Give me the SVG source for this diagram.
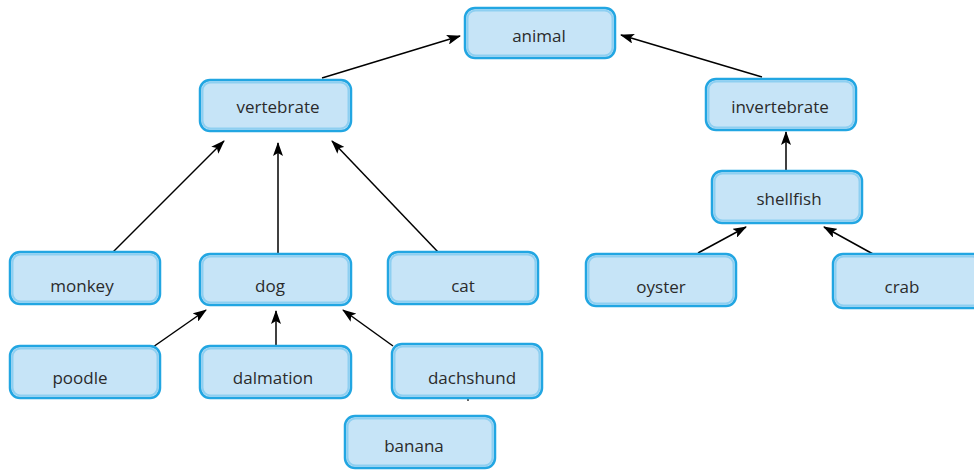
<svg xmlns="http://www.w3.org/2000/svg" width="974" height="470" viewBox="0 0 974 470">
<style>
.box{fill:#C6E4F7;stroke:#22A6E2;stroke-width:2.5}
.inner{fill:none;stroke:#8ECFF1;stroke-width:2}
.lbl{font-family:"Open Sans","DejaVu Sans",sans-serif;font-size:17px;fill:#2B2B2B;text-anchor:middle}
.edge{stroke:#000;stroke-width:1.5;fill:none;marker-end:url(#ah)}
</style>
<defs>
<marker id="ah" viewBox="0 0 14 10" refX="13" refY="5" markerWidth="14" markerHeight="10" markerUnits="userSpaceOnUse" orient="auto">
<path d="M0,0 L14,5 L0,10 L3,5 Z" fill="#000"/>
</marker>
</defs>
<g id="connectors">
<line class="edge" x1="322" y1="78" x2="460" y2="36"/>
<line class="edge" x1="762" y1="77" x2="621" y2="35"/>
<line class="edge" x1="113" y1="252" x2="224" y2="141"/>
<line class="edge" x1="278" y1="253" x2="278" y2="143"/>
<line class="edge" x1="438" y1="252" x2="332" y2="141"/>
<line class="edge" x1="786" y1="170" x2="786" y2="132"/>
<line class="edge" x1="698" y1="253" x2="746" y2="227"/>
<line class="edge" x1="873" y1="254" x2="824" y2="227"/>
<line class="edge" x1="153" y1="347" x2="206" y2="310"/>
<line class="edge" x1="276" y1="346" x2="276" y2="311"/>
<line class="edge" x1="393" y1="346" x2="343" y2="310"/>
<line x1="468" y1="398" x2="468" y2="401" stroke="#000" stroke-width="1.2"/>
</g>
<g id="animal"><rect class="box" x="465" y="8" width="150" height="50" rx="10"/><rect class="inner" x="467.5" y="10.5" width="145" height="45" rx="8"/><text class="lbl" x="539" y="42">animal</text></g>
<g id="vertebrate"><rect class="box" x="200" y="80" width="151" height="51" rx="10"/><rect class="inner" x="202.5" y="82.5" width="146" height="46" rx="8"/><text class="lbl" x="278" y="113">vertebrate</text></g>
<g id="invertebrate"><rect class="box" x="706" y="79" width="150" height="51" rx="10"/><rect class="inner" x="708.5" y="81.5" width="145" height="46" rx="8"/><text class="lbl" x="780" y="113">invertebrate</text></g>
<g id="shellfish"><rect class="box" x="712" y="171" width="150" height="52" rx="10"/><rect class="inner" x="714.5" y="173.5" width="145" height="47" rx="8"/><text class="lbl" x="789" y="205">shellfish</text></g>
<g id="monkey"><rect class="box" x="10" y="252" width="150" height="52" rx="10"/><rect class="inner" x="12.5" y="254.5" width="145" height="47" rx="8"/><text class="lbl" x="82" y="292">monkey</text></g>
<g id="dog"><rect class="box" x="200" y="254" width="151" height="51" rx="10"/><rect class="inner" x="202.5" y="256.5" width="146" height="46" rx="8"/><text class="lbl" x="270" y="292">dog</text></g>
<g id="cat"><rect class="box" x="388" y="252" width="150" height="52" rx="10"/><rect class="inner" x="390.5" y="254.5" width="145" height="47" rx="8"/><text class="lbl" x="463" y="292">cat</text></g>
<g id="oyster"><rect class="box" x="586" y="254" width="150" height="52" rx="10"/><rect class="inner" x="588.5" y="256.5" width="145" height="47" rx="8"/><text class="lbl" x="661" y="293">oyster</text></g>
<g id="crab"><rect class="box" x="833" y="254" width="150" height="54" rx="10"/><rect class="inner" x="835.5" y="256.5" width="145" height="49" rx="8"/><text class="lbl" x="902" y="293">crab</text></g>
<g id="poodle"><rect class="box" x="10" y="346" width="150" height="52" rx="10"/><rect class="inner" x="12.5" y="348.5" width="145" height="47" rx="8"/><text class="lbl" x="80" y="384">poodle</text></g>
<g id="dalmation"><rect class="box" x="200" y="346" width="151" height="52" rx="10"/><rect class="inner" x="202.5" y="348.5" width="146" height="47" rx="8"/><text class="lbl" x="273" y="384">dalmation</text></g>
<g id="dachshund"><rect class="box" x="392" y="344" width="150" height="54" rx="10"/><rect class="inner" x="394.5" y="346.5" width="145" height="49" rx="8"/><text class="lbl" x="472" y="384">dachshund</text></g>
<g id="banana"><rect class="box" x="345" y="416" width="150" height="52" rx="10"/><rect class="inner" x="347.5" y="418.5" width="145" height="47" rx="8"/><text class="lbl" x="414" y="452">banana</text></g>
</svg>
